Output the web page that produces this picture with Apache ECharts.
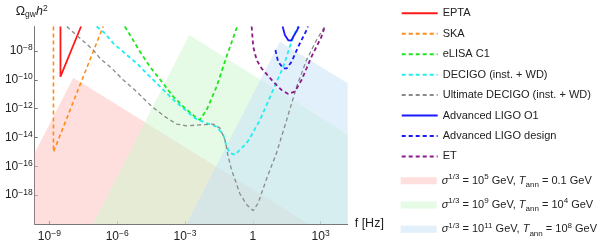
<!DOCTYPE html>
<html><head><meta charset="utf-8">
<script src="https://cdn.jsdelivr.net/npm/echarts@6/dist/echarts.min.js"></script>
<style>html,body{margin:0;padding:0;background:#fff}#c{width:606px;height:246px}</style>
</head><body><div id="c"></div>
<script>
// all values are log10(f / Hz) and log10(Omega_gw h^2)
const xTicks = [-9, -6, -3, 0, 3];
const yTicks = [-8, -10, -12, -14, -16, -18];

const lineNames = ['EPTA', 'SKA', 'eLISA C1', 'DECIGO (inst. + WD)', 'Ultimate DECIGO (inst. + WD)', 'Advanced LIGO O1', 'Advanced LIGO design', 'ET'];
const bandNames = ['band5', 'band9', 'band11'];

const EPTA = [[-8.51, -6.3], [-8.51, -9.78], [-7.60, -6.3]];
const SKA = [[-8.82, -6.3], [-8.82, -15.0], [-6.62, -6.3]];
const ELISA = [[-5.66, -6.3], [-5.43, -6.89], [-4.99, -8.05], [-4.55, -9.09], [-4.03, -10.12], [-3.52, -11.16], [-3.00, -11.97], [-2.48, -12.66], [-2.34, -12.78], [-2.04, -12.08], [-1.60, -10.47], [-1.16, -8.39], [-0.72, -6.43], [-0.68, -6.3]];
const DECIGO = [[-6.91, -6.3], [-6.54, -6.78], [-6.17, -7.47], [-5.66, -8.16], [-5.14, -8.85], [-4.55, -9.78], [-4.03, -10.58], [-3.59, -11.27], [-3.08, -11.97], [-2.56, -12.66], [-2.12, -12.96], [-1.60, -13.24], [-1.31, -13.81], [-1.16, -14.62], [-1.01, -15.08], [-0.79, -15.20], [-0.57, -14.85], [-0.27, -14.39], [-0.13, -14.04], [0.32, -12.78], [0.90, -10.70], [1.35, -9.09], [1.64, -7.70], [1.94, -6.43], [2.01, -6.3]];
const UDECIGO = [[-8.23, -6.3], [-7.06, -7.93], [-6.76, -8.51], [-6.24, -9.20], [-5.73, -10.01], [-5.14, -10.82], [-4.47, -11.85], [-3.89, -12.55], [-3.37, -13.07], [-2.93, -13.19], [-2.34, -13.12], [-1.75, -13.07], [-1.45, -13.35], [-1.23, -14.16], [-1.09, -15.31], [-0.94, -16.24], [-0.57, -17.90], [-0.27, -18.66], [0.02, -19.07], [0.24, -18.54], [0.61, -16.86], [1.05, -15.08], [1.50, -12.78], [1.94, -10.47], [2.38, -8.62], [2.82, -7.24], [3.19, -6.3]];
const LIGO_O1 = [[1.32, -6.3], [1.42, -6.89], [1.57, -7.26], [1.71, -7.27], [1.79, -7.01], [1.94, -6.62], [2.04, -6.3]];
const LIGO_DESIGN = [[1.00, -7.93], [1.12, -8.74], [1.35, -9.20], [1.50, -9.21], [1.72, -8.74], [2.01, -7.70], [2.38, -6.55], [2.44, -6.3]];
const ET = [[-0.05, -6.3], [0.02, -7.70], [0.17, -8.62], [0.39, -9.20], [0.90, -10.12], [1.27, -10.70], [1.57, -10.98], [1.86, -10.82], [2.16, -10.01], [2.60, -8.39], [3.04, -7.01], [3.19, -6.3]];

const BAND5 = [[-9.65, -15.08], [-7.94, -9.85], [2.48, -20]];
const BAND9 = [[-7.07, -20], [-2.81, -6.89], [4.2, -13.8]];
const BAND11 = [[-2.93, -20], [1.20, -7.36], [4.2, -10.24]];

const lineData = [EPTA, SKA, ELISA, DECIGO, UDECIGO, LIGO_O1, LIGO_DESIGN, ET];
const lineColors = ['#ff1a1a', '#ff8c1a', '#1ee61e', '#22eeee', '#8a8a8a', '#1a1aff', '#1a1aff', '#8c1a8c'];
const lineDash = ['solid', [4, 3], [4, 3], [4, 3], [4, 3], 'solid', [4, 3], [4, 3]];
const lineWidths = [1.8, 1.6, 1.8, 1.8, 1.3, 1.8, 1.8, 1.8];

const bandData = [BAND5, BAND9, BAND11];
const bandColors = ['rgba(255,190,190,0.5)', 'rgba(206,248,206,0.5)', 'rgba(198,226,248,0.5)'];
const bandLabels = [
  '{i|σ}{sup|1/3} = 10{sup|5} GeV, {i|T}{sub|ann} = 0.1 GeV',
  '{i|σ}{sup|1/3} = 10{sup|9} GeV, {i|T}{sub|ann} = 10{sup|4} GeV',
  '{i|σ}{sup|1/3} = 10{sup|11} GeV, {i|T}{sub|ann} = 10{sup|8} GeV'
];

const FONT = 'Liberation Sans, Arial, sans-serif';
const axisRich = {
  m: { fontSize: 12, lineHeight: 15, color: '#222', fontFamily: FONT },
  s: { fontSize: 8.5, lineHeight: 9, verticalAlign: 'top', color: '#222', fontFamily: FONT }
};
function powLabel(v) {
  if (v === 0) return '{m|1}';
  return '{m|10}{s|' + (v < 0 ? '\u2212' + (-v) : v) + '}';
}

const series = [];
bandData.forEach((d, i) => {
  series.push({
    type: 'line', name: bandNames[i], data: d, symbol: 'none', silent: true, z: 1,
    lineStyle: { width: 0, opacity: 0 },
    itemStyle: { color: bandColors[i] },
    areaStyle: { color: bandColors[i], opacity: 1, origin: 'start' },
    animation: false
  });
});
lineData.forEach((d, i) => {
  series.push({
    type: 'line', name: lineNames[i], data: d, symbol: 'none', showSymbol: false, silent: true, z: 3,
    clip: true,
    lineStyle: { color: lineColors[i], width: lineWidths[i], type: lineDash[i] },
    itemStyle: { color: lineColors[i] },
    animation: false
  });
});

const chart = echarts.init(document.getElementById('c'), null, { renderer: 'canvas' });
chart.setOption({
  animation: false,
  backgroundColor: '#fff',
  textStyle: { fontFamily: FONT },
  grid: { left: 34.7, right: 258.3, top: 26.5, bottom: 22, containLabel: false },
  xAxis: {
    type: 'value', min: -9.65, max: 4.2,
    name: 'f [Hz]', nameLocation: 'end', nameGap: 7,
    nameTextStyle: { fontSize: 12.5, color: '#222', fontFamily: FONT, align: 'left', verticalAlign: 'middle', padding: [2, 0, 0, 0] },
    axisLine: { onZero: false, lineStyle: { color: '#777', width: 1 } },
    axisTick: { inside: true, length: 3, customValues: xTicks, lineStyle: { color: '#777' } },
    axisLabel: { customValues: xTicks, formatter: powLabel, rich: axisRich, margin: 5 },
    splitLine: { show: false }
  },
  yAxis: {
    type: 'value', min: -20, max: -6.3,
    name: '{o|Ω}{sub|gw}{i|h}{sup|2}', nameLocation: 'end', nameGap: 7,
    nameTextStyle: {
      align: 'center', verticalAlign: 'bottom', padding: [0, 6, 0, 0],
      rich: {
        o: { fontSize: 12.5, lineHeight: 15, color: '#222', fontFamily: FONT },
        i: { fontSize: 12.5, lineHeight: 15, color: '#222', fontStyle: 'italic', fontFamily: FONT },
        sub: { fontSize: 8.5, lineHeight: 9, verticalAlign: 'bottom', color: '#222', fontFamily: FONT },
        sup: { fontSize: 8.5, lineHeight: 9, verticalAlign: 'top', color: '#222', fontFamily: FONT }
      }
    },
    axisLine: { onZero: false, lineStyle: { color: '#777', width: 1 } },
    axisTick: { inside: true, length: 3, customValues: yTicks, lineStyle: { color: '#777' } },
    axisLabel: { customValues: yTicks, formatter: powLabel, rich: axisRich, margin: 2 },
    splitLine: { show: false }
  },
  legend: [
    {
      orient: 'vertical', left: 400.7, top: 6.3, padding: 0, itemWidth: 36, itemHeight: 8, itemGap: 6.45, itemTextGap: 6,
      selectedMode: false, data: lineNames,
      itemStyle: { opacity: 0 },
      textStyle: { fontSize: 11, lineHeight: 14, color: '#222', fontFamily: FONT }
    },
    {
      orient: 'vertical', left: 400.7, top: 172.7, padding: 0, height: 73, itemWidth: 36, itemHeight: 7, itemGap: 8.3, itemTextGap: 6,
      selectedMode: false,
      data: bandNames.map(n => ({ name: n, icon: 'rect' })),
      formatter: function (name) { return bandLabels[bandNames.indexOf(name)]; },
      textStyle: {
        fontSize: 11, lineHeight: 16, color: '#222', fontFamily: FONT,
        rich: {
          i: { fontSize: 11, lineHeight: 16, fontStyle: 'italic', color: '#222', fontFamily: FONT },
          sup: { fontSize: 8, lineHeight: 9, verticalAlign: 'top', color: '#222', fontFamily: FONT },
          sub: { fontSize: 8, lineHeight: 9, verticalAlign: 'bottom', color: '#222', fontFamily: FONT }
        }
      }
    }
  ],
  series: series
});
</script>
</body></html>
